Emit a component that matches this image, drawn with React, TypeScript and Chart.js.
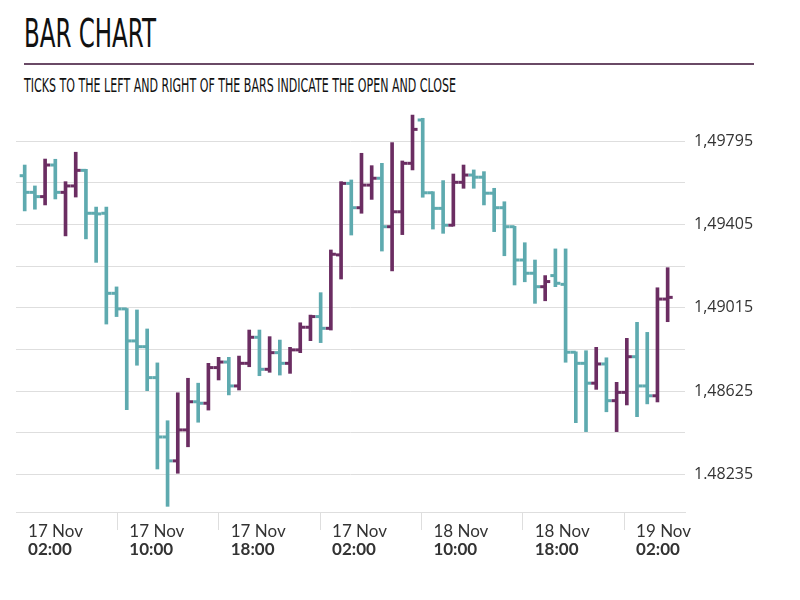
import React, { useEffect, useLayoutEffect, useRef } from 'react';
import { Chart, registerables } from 'chart.js';

Chart.register(...registerables);

const TITLE = 'BAR CHART';
const SUBTITLE = 'TICKS TO THE LEFT AND RIGHT OF THE BARS INDICATE THE OPEN AND CLOSE';

// OHLC values, one entry per bar (bar index = position on the time axis)
const openValues = [
  1.49634, 1.49556, 1.49536, 1.49684, 1.49556, 1.49586, 1.49659, 1.49458, 1.49458, 1.49083,
  1.4901, 1.4886, 1.48833, 1.48688, 1.4841, 1.48298, 1.48443, 1.48575, 1.48568, 1.48735,
  1.48761, 1.48649, 1.48755, 1.48877, 1.48727, 1.48805, 1.48755, 1.48818, 1.48924, 1.48974,
  1.48919, 1.49263, 1.49598, 1.49484, 1.4959, 1.49622, 1.49395, 1.49465, 1.49692, 1.49895,
  1.49554, 1.49481, 1.49402, 1.49603, 1.49637, 1.49627, 1.49552, 1.49484, 1.49395, 1.49239,
  1.49177, 1.49114, 1.49166, 1.49125, 1.48807, 1.48755, 1.48662, 1.48752, 1.4858, 1.48619,
  1.48786, 1.48649, 1.48603, 1.49056,
];
const highValues = [
  1.49684, 1.49586, 1.49712, 1.49711, 1.49606, 1.49744, 1.49664, 1.49487, 1.49487, 1.49113,
  1.49012, 1.49005, 1.48916, 1.48757, 1.48486, 1.48617, 1.48685, 1.48662, 1.48755, 1.48783,
  1.48783, 1.48789, 1.48911, 1.48911, 1.4888, 1.48864, 1.4883, 1.48945, 1.48981, 1.49086,
  1.49286, 1.49606, 1.49614, 1.49739, 1.49681, 1.49692, 1.49789, 1.49703, 1.49918, 1.49903,
  1.49559, 1.49611, 1.49642, 1.49684, 1.49661, 1.49653, 1.49575, 1.49512, 1.49397, 1.4932,
  1.49239, 1.49166, 1.49291, 1.49291, 1.48809, 1.48814, 1.4883, 1.48781, 1.48666, 1.48872,
  1.48947, 1.489, 1.49109, 1.49203,
];
const lowValues = [
  1.49469, 1.49477, 1.49497, 1.49525, 1.49352, 1.49534, 1.49338, 1.49228, 1.48939, 1.48974,
  1.48538, 1.48746, 1.48627, 1.4826, 1.48085, 1.4824, 1.48364, 1.48479, 1.48536, 1.48677,
  1.48607, 1.4863, 1.48739, 1.48697, 1.48713, 1.487, 1.48708, 1.48805, 1.48861, 1.48852,
  1.48911, 1.4915, 1.49356, 1.49458, 1.49523, 1.49281, 1.49188, 1.49358, 1.49661, 1.49533,
  1.49384, 1.49364, 1.49398, 1.49575, 1.49575, 1.49497, 1.49372, 1.49259, 1.49122, 1.49137,
  1.49036, 1.49048, 1.49114, 1.4876, 1.48477, 1.48435, 1.48633, 1.48528, 1.48435, 1.4856,
  1.48505, 1.48565, 1.48574, 1.4895,
];
const closeValues = [
  1.49556, 1.49536, 1.49684, 1.49556, 1.49586, 1.49659, 1.49458, 1.49455, 1.49083, 1.4901,
  1.4886, 1.48833, 1.48688, 1.4841, 1.48298, 1.48443, 1.48575, 1.48568, 1.48735, 1.48761,
  1.48649, 1.48755, 1.48877, 1.48727, 1.48805, 1.48755, 1.48818, 1.48924, 1.48974, 1.48919,
  1.49266, 1.49598, 1.49484, 1.4959, 1.49622, 1.49395, 1.49465, 1.49692, 1.49851, 1.49554,
  1.49481, 1.49402, 1.49603, 1.49637, 1.49627, 1.49552, 1.49484, 1.49395, 1.49239, 1.49177,
  1.49114, 1.49138, 1.4913, 1.48807, 1.48755, 1.48662, 1.48752, 1.4858, 1.48619, 1.48786,
  1.48649, 1.48603, 1.49056, 1.49064,
];

// Time axis labels (positions in bar-index units)
const xTickPositions = [-0.85, 9.08, 19.01, 28.94, 38.87, 48.8, 58.73];
const xTickDates = ['17 Nov', '17 Nov', '17 Nov', '17 Nov', '18 Nov', '18 Nov', '19 Nov'];
const xTickTimes = ['02:00', '10:00', '18:00', '02:00', '10:00', '18:00', '02:00'];

// Price axis
const yTickValues = [1.48235, 1.4843, 1.48625, 1.4882, 1.49015, 1.4921, 1.49405, 1.496, 1.49795];
const yTickLabels = ['1.48235', '', '1,48625', '', '1,49015', '', '1,49405', '', '1,49795'];

const X_MIN = -0.852;
const X_MAX = 64.7;
const Y_MIN = 1.480585;
const Y_MAX = 1.499652;

const UP_COLOR = '#6b2d62';
const DOWN_COLOR = '#5eaaaf';
const GRID_COLOR = '#dedede';
const TEXT_COLOR = '#333333';

function FitText({ text, width, style }: { text: string; width: number; style: React.CSSProperties }) {
  const ref = useRef<HTMLSpanElement>(null);
  useLayoutEffect(() => {
    const el = ref.current;
    if (!el) return;
    el.style.transform = 'none';
    const w = el.getBoundingClientRect().width;
    if (w > 0) el.style.transform = `scaleX(${width / w})`;
  }, [text, width]);
  return (
    <span
      ref={ref}
      style={{ position: 'absolute', display: 'inline-block', whiteSpace: 'nowrap', transformOrigin: '0 0', ...style }}
    >
      {text}
    </span>
  );
}

export default function App() {
  const canvasRef = useRef<HTMLCanvasElement>(null);

  useEffect(() => {
    const canvas = canvasRef.current;
    if (!canvas) return;
    const colors = openValues.map((o, i) => (closeValues[i] >= o ? UP_COLOR : DOWN_COLOR));

    const xTicksBuilder = (s: any) => {
      s.ticks = xTickPositions.map((v) => ({ value: v }));
    };

    const chart = new Chart(canvas, {
      type: 'bar',
      data: {
        datasets: [
          {
            type: 'scatter',
            label: 'Open',
            data: openValues.map((v, i) => ({ x: i - 0.25, y: v })),
            pointStyle: 'line',
            pointRadius: 2.5,
            pointHoverRadius: 2.5,
            pointBorderWidth: 3,
            pointHoverBorderWidth: 3,
            pointBorderColor: colors,
            pointBackgroundColor: colors,
            showLine: false,
            xAxisID: 'x',
            yAxisID: 'y',
          } as any,
          {
            type: 'scatter',
            label: 'Close',
            data: closeValues.map((v, i) => ({ x: i + 0.25, y: v })),
            pointStyle: 'line',
            pointRadius: 2.5,
            pointHoverRadius: 2.5,
            pointBorderWidth: 3,
            pointHoverBorderWidth: 3,
            pointBorderColor: colors,
            pointBackgroundColor: colors,
            showLine: false,
            xAxisID: 'x',
            yAxisID: 'y',
          } as any,
          {
            type: 'bar',
            label: 'High-Low',
            data: lowValues.map((l, i) => ({ x: i, y: [l, highValues[i]] })) as any,
            backgroundColor: colors,
            borderWidth: 0,
            barThickness: 3,
            xAxisID: 'x',
            yAxisID: 'y',
          } as any,
        ],
      },
      options: {
        animation: false,
        responsive: false,
        events: [],
        layout: { padding: { left: 16, top: 15, right: 0, bottom: 41 } },
        plugins: { legend: { display: false }, tooltip: { enabled: false }, title: { display: false } },
        scales: {
          x: {
            type: 'linear',
            position: 'bottom',
            weight: 0,
            min: X_MIN,
            max: X_MAX,
            offset: false,
            afterBuildTicks: xTicksBuilder,
            afterFit: (s: any) => {
              s.height = 27;
              s.paddingLeft = 0;
              s.paddingRight = 0;
            },
            grid: {
              offset: false,
              drawOnChartArea: false,
              drawTicks: true,
              tickLength: 18,
              lineWidth: 1,
              color: (ctx: any) => (ctx.index === 0 ? 'rgba(0,0,0,0)' : GRID_COLOR),
            },
            border: { display: true, color: GRID_COLOR, width: 1 },
            ticks: {
              autoSkip: false,
              maxRotation: 0,
              minRotation: 0,
              align: 'start',
              labelOffset: 12,
              padding: -9,
              color: TEXT_COLOR,
              font: { family: 'Lato', size: 17 },
              callback: (_v: any, i: number) => xTickDates[i],
            },
          } as any,
          x2: {
            type: 'linear',
            position: 'bottom',
            weight: 1,
            min: X_MIN,
            max: X_MAX,
            offset: false,
            afterBuildTicks: xTicksBuilder,
            afterFit: (s: any) => {
              s.height = 20;
              s.paddingLeft = 0;
              s.paddingRight = 0;
            },
            grid: { display: false, drawTicks: false, offset: false },
            border: { display: false },
            ticks: {
              autoSkip: false,
              maxRotation: 0,
              minRotation: 0,
              align: 'start',
              labelOffset: 12,
              padding: 0,
              color: TEXT_COLOR,
              font: { family: 'Lato', size: 17, weight: 'bold' },
              callback: (_v: any, i: number) => xTickTimes[i],
            },
          } as any,
          y: {
            type: 'linear',
            position: 'right',
            min: Y_MIN,
            max: Y_MAX,
            beginAtZero: false,
            afterBuildTicks: (s: any) => {
              s.ticks = yTickValues.map((v) => ({ value: v }));
            },
            afterFit: (s: any) => {
              s.width = 115;
              s.paddingTop = 0;
              s.paddingBottom = 0;
            },
            grid: { color: GRID_COLOR, lineWidth: 1, drawTicks: false },
            border: { display: false },
            ticks: {
              autoSkip: false,
              padding: 9,
              color: TEXT_COLOR,
              font: { family: 'Open Sans', size: 16 },
              callback: (_v: any, i: number) => yTickLabels[i],
            },
          } as any,
        },
      },
    });
    return () => chart.destroy();
  }, []);

  return (
    <div style={{ position: 'fixed', left: 0, top: 0, width: 800, height: 600, background: '#ffffff', overflow: 'hidden' }}>
      <FitText
        text={TITLE}
        width={132}
        style={{
          left: 24,
          top: 14,
          fontSize: 39,
          lineHeight: '39px',
          color: '#111111',
          fontFamily: "'Liberation Sans Narrow', 'DejaVu Sans Condensed', 'DejaVu Sans', sans-serif",
        }}
      />
      <div style={{ position: 'absolute', left: 24, top: 63, width: 730, height: 2, background: '#6a4a66' }} />
      <FitText
        text={SUBTITLE}
        width={432}
        style={{
          left: 24,
          top: 76,
          fontSize: 19.5,
          lineHeight: '19.5px',
          color: '#111111',
          fontFamily: "'Liberation Sans Narrow', 'DejaVu Sans Condensed', 'DejaVu Sans', sans-serif",
        }}
      />
      <canvas ref={canvasRef} width={800} height={510} style={{ position: 'absolute', left: 0, top: 90 }} />
    </div>
  );
}
